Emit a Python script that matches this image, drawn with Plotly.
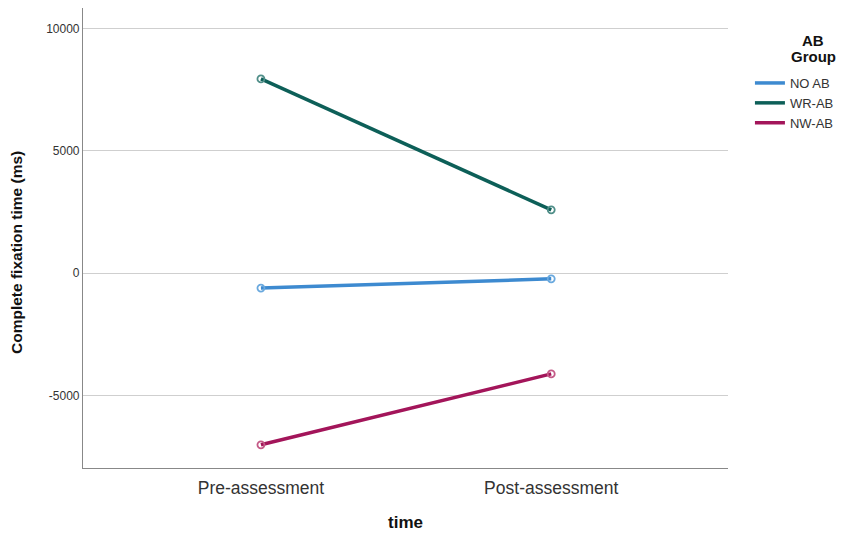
import plotly.graph_objects as go

categories = ["Pre-assessment", "Post-assessment"]
groups = ["NO AB", "WR-AB", "NW-AB"]
no_ab = [-610, -230]
wr_ab = [7945, 2590]
nw_ab = [-7020, -4120]
y_ticks = [-5000, 0, 5000, 10000]

line_colors = ["#3d8ad0", "#0d5f58", "#a3155a"]
marker_colors = ["#6aa9de", "#4f8e88", "#c45a87"]

fig = go.Figure()
for name, vals, lc, mc in zip(groups, [no_ab, wr_ab, nw_ab], line_colors, marker_colors):
    fig.add_trace(go.Scatter(
        x=categories, y=vals, name=name, mode="lines+markers", showlegend=False,
        line=dict(color=lc, width=3.5),
        marker=dict(symbol="circle-open", size=7, color=mc, line=dict(width=1.8, color=mc)),
    ))
# legend entries (line only, like the reference)
for name, lc in zip(groups, line_colors):
    fig.add_trace(go.Scatter(
        x=[None], y=[None], name=name, mode="lines",
        line=dict(color=lc, width=3.5), showlegend=True,
    ))

def py(screen_y):
    return 1 - (screen_y - 8) / 460

fig.update_layout(
    width=854, height=535,
    margin=dict(l=75, r=134, t=0, b=75, autoexpand=False),
    plot_bgcolor="white", paper_bgcolor="white",
    font=dict(family="Liberation Sans, Arial, sans-serif", color="#222222"),
    xaxis=dict(
        type="category", range=[-0.613, 1.609], automargin=False,
        showline=True, linecolor="#888888", linewidth=1.2,
        showgrid=False, ticks="", ticklabelstandoff=4,
        tickfont=dict(size=17.5, color="#333333"),
        title=dict(text="<b>time</b>", font=dict(size=17, color="#111111"), standoff=19),
    ),
    yaxis=dict(
        range=[-7968, 10846], tickvals=y_ticks, ticktext=[str(v) for v in y_ticks],
        automargin=False,
        showline=True, linecolor="#888888", linewidth=1.2,
        showgrid=True, gridcolor="#cfcfcf", gridwidth=1.2, zeroline=False,
        ticks="", tickfont=dict(size=12, color="#333333"),
    ),
    legend=dict(
        x=1.034, y=py(68), xanchor="left", yanchor="top",
        font=dict(size=13, color="#333333"),
        itemwidth=30, tracegroupgap=0, bgcolor="rgba(0,0,0,0)",
    ),
    annotations=[
        dict(text="<b>Complete fixation time (ms)</b>", textangle=-90,
             xref="paper", yref="paper", x=-0.1039, y=py(252),
             xanchor="center", yanchor="middle", showarrow=False,
             font=dict(size=15.5, color="#111111")),
        dict(text="<b>AB</b>", xref="paper", yref="paper", x=1.1318, y=py(40),
             xanchor="center", yanchor="middle", showarrow=False,
             font=dict(size=15, color="#111111")),
        dict(text="<b>Group</b>", xref="paper", yref="paper", x=1.1318, y=py(57),
             xanchor="center", yanchor="middle", showarrow=False,
             font=dict(size=15, color="#111111")),
    ],
)

fig.write_html("out.html")
